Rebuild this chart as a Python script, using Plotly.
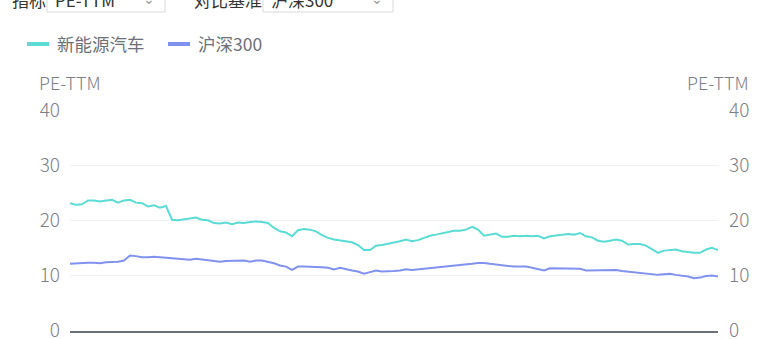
import plotly.graph_objects as go

# ---- data ----
day_index = list(range(109))

nev_pe = [23.1, 22.8, 22.9, 23.6, 23.6, 23.4, 23.6, 23.7, 23.2, 23.6,
          23.7, 23.2, 23.1, 22.5, 22.7, 22.3, 22.6, 20.1, 20.0, 20.2,
          20.3, 20.5, 20.1, 20.0, 19.5, 19.4, 19.6, 19.3, 19.6, 19.5,
          19.7, 19.8, 19.7, 19.5, 18.6, 18.0, 17.8, 17.1, 18.2, 18.4,
          18.3, 18.0, 17.3, 16.8, 16.5, 16.3, 16.2, 16.0, 15.5, 14.6,
          14.6, 15.4, 15.5, 15.7, 15.9, 16.2, 16.5, 16.2, 16.4, 16.8,
          17.2, 17.4, 17.6, 17.8, 18.1, 18.1, 18.3, 18.8, 18.3, 17.2,
          17.4, 17.6, 17.0, 17.0, 17.2, 17.1, 17.2, 17.1, 17.2, 16.7,
          17.1, 17.2, 17.3, 17.5, 17.4, 17.7, 17.1, 16.9, 16.3, 16.1,
          16.3, 16.5, 16.3, 15.6, 15.7, 15.7, 15.4, 14.8, 14.1, 14.5,
          14.6, 14.7, 14.4, 14.2, 14.1, 14.1, 14.7, 15.0, 14.6]

hs300_pe = [12.1, 12.2, 12.2, 12.3, 12.3, 12.2, 12.4, 12.4, 12.5, 12.7,
            13.6, 13.5, 13.3, 13.3, 13.4, 13.3, 13.2, 13.1, 13.0, 12.9,
            12.85, 13.0, 12.9, 12.7, 12.6, 12.5, 12.6, 12.6, 12.7, 12.7,
            12.5, 12.7, 12.7, 12.5, 12.2, 11.8, 11.6, 11.0, 11.6, 11.6,
            11.6, 11.6, 11.5, 11.4, 11.1, 11.4, 11.1, 10.9, 10.7, 10.3,
            10.6, 10.9, 10.7, 10.7, 10.8, 10.9, 11.1, 11.0, 11.1, 11.2,
            11.3, 11.4, 11.5, 11.6, 11.8, 11.8, 12.0, 12.1, 12.25, 12.25,
            12.1, 11.95, 11.8, 11.65, 11.6, 11.6, 11.6, 11.4, 11.2, 10.9,
            11.3, 11.3, 11.3, 11.3, 11.2, 11.2, 10.9, 10.9, 10.9, 10.9,
            10.9, 11.0, 10.8, 10.7, 10.6, 10.5, 10.4, 10.3, 10.1, 10.2,
            10.3, 10.1, 10.0, 9.8, 9.5, 9.6, 9.9, 10.0, 9.8]

series_names = ["新能源汽车", "沪深300"]
y_ticks = [0, 10, 20, 30, 40]
axis_name = "PE-TTM"
selector_labels = ["指标", "对比基准"]
selector_values = ["PE-TTM", "沪深300"]

# ---- styling ----
W, H = 784, 339
L, R, T, B = 70, 718, 110, 331
GREEN = "#5adcd4"
BLUE = "#8192ee"
TXT = "#6e7079"
TICK = "#7d7f88"
FONT = "Noto Sans CJK SC, Noto Sans, sans-serif"


def px(xp):
    return (xp - L) / (R - L)


def py(yp):
    return (B - yp) / (B - T)


fig = go.Figure()
fig.add_trace(go.Scatter(x=day_index, y=nev_pe, mode="lines", name=series_names[0],
                         line=dict(color=GREEN, width=2), showlegend=False))
fig.add_trace(go.Scatter(x=day_index, y=hs300_pe, mode="lines", name=series_names[1],
                         line=dict(color=BLUE, width=2), showlegend=False, yaxis="y2"))

axis_common = dict(range=[-0.08, 40], tickvals=y_ticks, ticks="", zeroline=False,
                   ticklabeloverflow="allow", automargin=False,
                   tickfont=dict(family=FONT, size=19, color=TICK, weight=300))
fig.update_layout(
    width=W, height=H,
    margin=dict(l=L, r=W - R, t=T, b=H - B, pad=0, autoexpand=False),
    paper_bgcolor="white", plot_bgcolor="white",
    font=dict(family=FONT, color=TXT),
    xaxis=dict(range=[0, len(day_index) - 1], showticklabels=False, showgrid=False,
               automargin=False,
               zeroline=False, showline=True, linecolor=TXT, linewidth=2, ticks=""),
    yaxis=dict(showgrid=True, gridcolor="#eef0f5", gridwidth=1, ticklabelstandoff=9,
               **axis_common),
    yaxis2=dict(overlaying="y", side="right", showgrid=False, ticklabelstandoff=10,
                **axis_common),
    hovermode=False,
)

shapes = []
annos = []
# axis names
for xp in (L, R):
    annos.append(dict(x=px(xp), y=py(82), xref="paper", yref="paper", text=axis_name,
                      showarrow=False, xanchor="center", yanchor="middle",
                      font=dict(family=FONT, size=18, color=TICK, weight=300)))

# manual legend
leg = [(27, 49, 55, series_names[0], GREEN), (168, 190, 196, series_names[1], BLUE)]
for x0, x1, xt, name, col in leg:
    shapes.append(dict(type="line", xref="paper", yref="paper", x0=px(x0), x1=px(x1),
                       y0=py(44), y1=py(44), line=dict(color=col, width=4)))
    annos.append(dict(x=px(xt), y=py(44), xref="paper", yref="paper", text=name,
                      showarrow=False, xanchor="left", yanchor="middle",
                      font=dict(family=FONT, size=17.5, color=TXT)))

# selectors at the top (cut off by the frame, as in the reference)
sel = [(10, 47, 165, 53, selector_labels[0], selector_values[0]),
       (192, 263, 393, 269, selector_labels[1], selector_values[1])]
for xl, bx0, bx1, xv, lab, val in sel:
    shapes.append(dict(type="rect", xref="paper", yref="paper", x0=px(bx0), x1=px(bx1),
                       y0=py(12), y1=py(-20), line=dict(color="#d9d9d9", width=1),
                       fillcolor="white", layer="below"))
    annos.append(dict(x=px(xl), y=py(-1), xref="paper", yref="paper", text=lab,
                      showarrow=False, xanchor="left", yanchor="middle",
                      font=dict(family=FONT, size=17, color="#333333")))
    annos.append(dict(x=px(xv), y=py(-1), xref="paper", yref="paper", text=val,
                      showarrow=False, xanchor="left", yanchor="middle",
                      font=dict(family=FONT, size=17, color="#333333")))
    annos.append(dict(x=px(bx1 - 16), y=py(-2), xref="paper", yref="paper", text="⌄",
                      showarrow=False, xanchor="center", yanchor="middle",
                      font=dict(family=FONT, size=14, color="#999999")))

fig.update_layout(shapes=shapes, annotations=annos)
fig.write_html("out.html")
